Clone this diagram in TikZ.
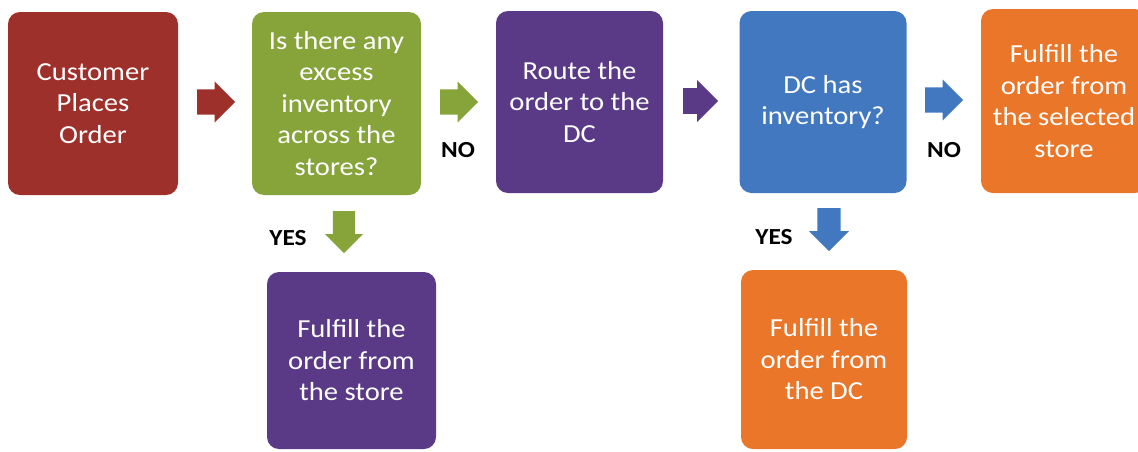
\documentclass[tikz,border=0pt]{standalone}
\usepackage{fontspec}
\setmainfont{Carlito}[FakeStretch=1.1]
\usetikzlibrary{shapes.arrows}
\definecolor{cRed}{RGB}{158,48,44}
\definecolor{cGreen}{RGB}{134,164,58}
\definecolor{cPurple}{RGB}{90,58,134}
\definecolor{cBlue}{RGB}{66,120,192}
\definecolor{cOrange}{RGB}{234,118,42}
\tikzset{
  stepbox/.style={rectangle, rounded corners=12pt, draw=none, text=white,
    align=center, inner sep=0pt, font=\fontsize{26}{31.5}\selectfont},
  blockarrow/.style={single arrow, draw=none, anchor=tail,
    minimum height=38pt, minimum width=41pt, single arrow head extend=8pt,
    single arrow tip angle=90},
  arrowright/.style={blockarrow, inner xsep=0pt, inner ysep=12.5pt, shape border rotate=0},
  arrowdown/.style={blockarrow, inner sep=11pt, shape border rotate=270},
  answer/.style={font=\bfseries\fontsize{23}{26}\selectfont, text=black, inner sep=0pt}
}
\begin{document}
\begin{tikzpicture}[x=1pt, y=-1pt]
\useasboundingbox (0,0) rectangle (1138,451);
\fill[white] (0,0) rectangle (1138,451);

% process steps
\node[stepbox, fill=cRed, minimum width=170pt, minimum height=183pt] (order) at (93,103.5)
  {Customer\\Places\\Order};
\node[stepbox, fill=cGreen, minimum width=169pt, minimum height=183pt] (excess) at (336.5,103.5)
  {Is there any\\excess\\inventory\\across the\\stores?};
\node[stepbox, fill=cPurple, minimum width=167pt, minimum height=182pt] (route) at (579.5,102)
  {Route the\\order to the\\DC};
\node[stepbox, fill=cBlue, minimum width=167pt, minimum height=182pt] (dcinv) at (823,102)
  {DC has\\inventory?};
\node[stepbox, fill=cOrange, minimum width=166pt, minimum height=184pt] (selected) at (1064,101)
  {Fulfill the\\order from\\the selected\\store};
\node[stepbox, fill=cPurple, minimum width=169pt, minimum height=177pt] (store) at (351.5,360.5)
  {Fulfill the\\order from\\the store};
\node[stepbox, fill=cOrange, minimum width=166pt, minimum height=179pt] (fromdc) at (824,359.5)
  {Fulfill the\\order from\\the DC};

% block arrows between the steps, placed by their tails
\node[arrowright, fill=cRed] (a1) at (197,102) {};
\node[arrowright, fill=cGreen] (a2) at (440,102) {};
\node[arrowright, fill=cPurple, minimum width=42pt, minimum height=35pt] (a3) at (683,101) {};
\node[arrowright, fill=cBlue, minimum width=40pt] (a4) at (925,100) {};
\node[arrowdown, fill=cGreen, minimum width=38pt, minimum height=42pt] (a5) at (344,211) {};
\node[arrowdown, fill=cBlue, minimum width=40pt, minimum height=43pt] (a6) at (829,208) {};

% branch labels
\node[answer] (no1) at (458,150) {NO};
\node[answer] (no2) at (944,150) {NO};
\node[answer] (yes1) at (288,238) {YES};
\node[answer] (yes2) at (774,237) {YES};
\end{tikzpicture}
\end{document}
